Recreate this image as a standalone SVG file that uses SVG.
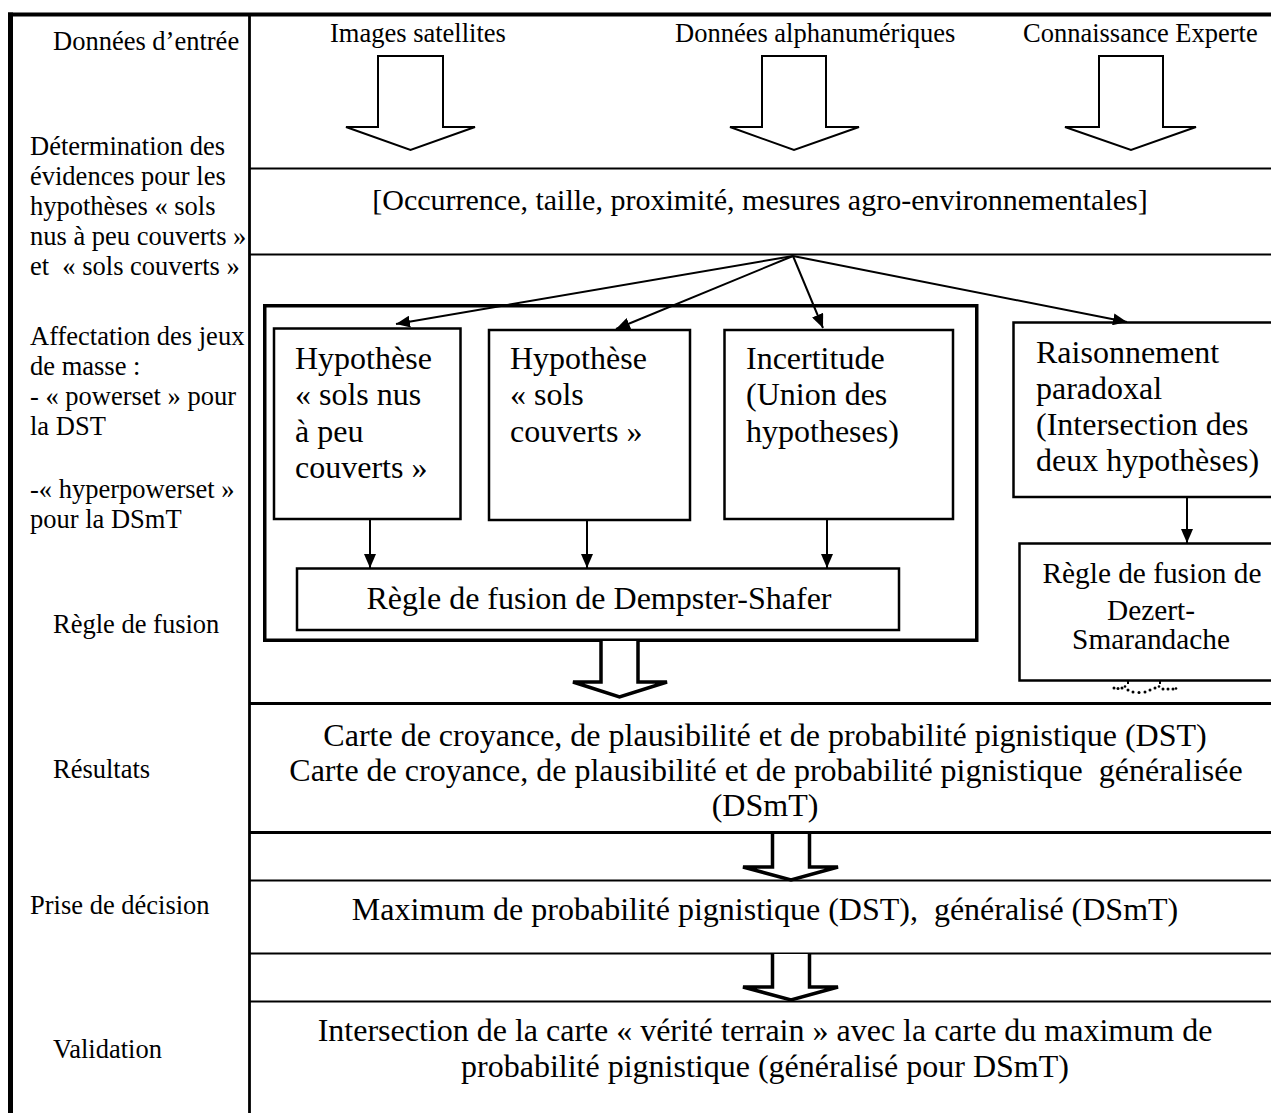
<svg xmlns="http://www.w3.org/2000/svg" width="1271" height="1113" viewBox="0 0 1271 1113">
<defs>
<style>
text{font-family:"Liberation Serif","Times New Roman",serif;fill:#000}
.lab{font-size:26.5px}
.top{font-size:26.5px}
.mid{font-size:32px;text-anchor:middle}
.occ{font-size:30px;text-anchor:middle}
.box{font-size:32px}
.dsm{font-size:29.3px;text-anchor:middle}
.frame{fill:none;stroke:#000}
.node{fill:#fff;stroke:#000;stroke-width:2.5}
.fat{fill:#fff;stroke:#000;stroke-width:2;stroke-linejoin:miter}
.big{fill:#fff;stroke:#000;stroke-width:3.5;stroke-linejoin:miter}
.conn{fill:none;stroke:#000;stroke-width:2}
</style>
<marker id="ah" viewBox="0 0 14 12" refX="14" refY="6" markerWidth="14" markerHeight="12" markerUnits="userSpaceOnUse" orient="auto">
<path d="M0,0 L14,6 L0,12 Z" fill="#000"/>
</marker>
</defs>
<rect width="1271" height="1113" fill="#fff"/>

<g id="frame">
<line class="frame" x1="8" y1="14.5" x2="1271" y2="14.5" stroke-width="4"/>
<line class="frame" x1="10.5" y1="12.5" x2="10.5" y2="1113" stroke-width="5"/>
<line class="frame" x1="249.5" y1="14" x2="249.5" y2="1113" stroke-width="2.8"/>
<line class="frame" x1="249" y1="168.5" x2="1271" y2="168.5" stroke-width="2"/>
<line class="frame" x1="249" y1="254.5" x2="1271" y2="254.5" stroke-width="2"/>
<line class="frame" x1="249" y1="703.5" x2="1271" y2="703.5" stroke-width="3"/>
<line class="frame" x1="249" y1="832.5" x2="1271" y2="832.5" stroke-width="3"/>
<line class="frame" x1="249" y1="880.5" x2="1271" y2="880.5" stroke-width="2"/>
<line class="frame" x1="249" y1="953.5" x2="1271" y2="953.5" stroke-width="2"/>
<line class="frame" x1="249" y1="1001.5" x2="1271" y2="1001.5" stroke-width="2"/>
</g>

<g id="left-labels">
<text class="lab" x="53" y="50">Données d’entrée</text>
<text class="lab" x="30" y="155">Détermination des</text>
<text class="lab" x="30" y="185">évidences pour les</text>
<text class="lab" x="30" y="215">hypothèses « sols</text>
<text class="lab" x="30" y="245">nus à peu couverts »</text>
<text class="lab" x="30" y="275" xml:space="preserve">et  « sols couverts »</text>
<text class="lab" x="30" y="345">Affectation des jeux</text>
<text class="lab" x="30" y="375">de masse :</text>
<text class="lab" x="30" y="405">- « powerset » pour</text>
<text class="lab" x="30" y="435">la DST</text>
<text class="lab" x="30" y="498">-« hyperpowerset »</text>
<text class="lab" x="30" y="528">pour la DSmT</text>
<text class="lab" x="53" y="633">Règle de fusion</text>
<text class="lab" x="53" y="778">Résultats</text>
<text class="lab" x="30" y="914">Prise de décision</text>
<text class="lab" x="53" y="1058">Validation</text>
</g>

<g id="inputs">
<text class="top" x="330" y="42">Images satellites</text>
<text class="top" x="675" y="42">Données alphanumériques</text>
<text class="top" x="1023" y="42">Connaissance Experte</text>
<polygon class="fat" points="378,56 443,56 443,127 475,127 410.5,150 346,127 378,127"/>
<polygon class="fat" points="762,56 826,56 826,127 859,127 794,150 730,127 762,127"/>
<polygon class="fat" points="1099,56 1163,56 1163,127 1196,127 1131,150 1065,127 1099,127"/>
</g>

<g id="evidences">
<text class="occ" x="760" y="210">[Occurrence, taille, proximité, mesures agro-environnementales]</text>
</g>

<g id="dst-group">
<rect x="264.75" y="305.75" width="712" height="334.5" fill="none" stroke="#000" stroke-width="3.5"/>
</g>

<g id="hyp1">
<rect class="node" x="274" y="328.5" width="186.5" height="190.5"/>
<text class="box" x="295" y="369">Hypothèse</text>
<text class="box" x="295" y="405">« sols nus</text>
<text class="box" x="295" y="442">à peu</text>
<text class="box" x="295" y="478">couverts »</text>
</g>

<g id="hyp2">
<rect class="node" x="489" y="330" width="201" height="190"/>
<text class="box" x="510" y="369">Hypothèse</text>
<text class="box" x="510" y="405">« sols</text>
<text class="box" x="510" y="442">couverts »</text>
</g>

<g id="incertitude">
<rect class="node" x="724.5" y="330" width="228.5" height="189"/>
<text class="box" x="746" y="369">Incertitude</text>
<text class="box" x="746" y="405">(Union des</text>
<text class="box" x="746" y="442">hypotheses)</text>
</g>

<g id="dempster">
<rect class="node" x="297" y="568.5" width="602" height="61.5"/>
<text class="box" x="599" y="609" text-anchor="middle">Règle de fusion de Dempster-Shafer</text>
</g>

<g id="paradoxal">
<rect class="node" x="1013.5" y="322.5" width="262" height="174.5"/>
<text class="box" x="1036" y="363">Raisonnement</text>
<text class="box" x="1036" y="399">paradoxal</text>
<text class="box" x="1036" y="435">(Intersection des</text>
<text class="box" x="1036" y="471">deux hypothèses)</text>
</g>

<g id="dsm">
<rect class="node" x="1019.5" y="543.5" width="256" height="137"/>
<text class="dsm" x="1152" y="583">Règle de fusion de</text>
<text class="dsm" x="1151" y="620">Dezert-</text>
<text class="dsm" x="1151" y="649">Smarandache</text>
</g>

<g id="results">
<text class="mid" x="765" y="746">Carte de croyance, de plausibilité et de probabilité pignistique (DST)</text>
<text class="mid" x="766" y="781" xml:space="preserve">Carte de croyance, de plausibilité et de probabilité pignistique  généralisée</text>
<text class="mid" x="765" y="816">(DSmT)</text>
</g>

<g id="decision">
<text class="mid" x="765" y="920" xml:space="preserve">Maximum de probabilité pignistique (DST),  généralisé (DSmT)</text>
</g>

<g id="validation">
<text class="mid" x="765" y="1041">Intersection de la carte « vérité terrain » avec la carte du maximum de</text>
<text class="mid" x="765" y="1077">probabilité pignistique (généralisé pour DSmT)</text>
</g>

<g id="connectors">
<line class="conn" x1="793" y1="256" x2="396" y2="324" marker-end="url(#ah)"/>
<line class="conn" x1="793" y1="256" x2="616" y2="329" marker-end="url(#ah)"/>
<line class="conn" x1="793" y1="256" x2="823" y2="328" marker-end="url(#ah)"/>
<line class="conn" x1="793" y1="256" x2="1127" y2="322" marker-end="url(#ah)"/>
<line class="conn" x1="370" y1="520" x2="370" y2="568" marker-end="url(#ah)"/>
<line class="conn" x1="587" y1="521" x2="587" y2="568" marker-end="url(#ah)"/>
<line class="conn" x1="827" y1="520" x2="827" y2="568" marker-end="url(#ah)"/>
<line class="conn" x1="1187" y1="498" x2="1187" y2="543" marker-end="url(#ah)"/>
<polyline class="big" points="601,641 601,682 573,682 619.5,697 667,682 638,682 638,641"/>
<polyline class="big" points="772.5,834 772.5,867 743,867 791,880 838,867 809.5,867 809.5,834"/>
<polyline class="big" points="772.5,954 772.5,987 743,987 791,1000 838,987 809.5,987 809.5,954"/>
<g fill="#000">
<rect x="1127" y="681" width="2" height="3"/>
<rect x="1159" y="681" width="2" height="3"/>
<circle cx="1114" cy="688" r="1.5"/>
<circle cx="1118" cy="688.5" r="1.5"/>
<circle cx="1122" cy="688" r="1.5"/>
<circle cx="1125" cy="686.5" r="1.3"/>
<circle cx="1128" cy="690" r="1.5"/>
<circle cx="1133" cy="692" r="1.5"/>
<circle cx="1139" cy="692.5" r="1.5"/>
<circle cx="1145" cy="692" r="1.5"/>
<circle cx="1150" cy="690" r="1.5"/>
<circle cx="1155" cy="688" r="1.5"/>
<circle cx="1159" cy="686.5" r="1.3"/>
<circle cx="1163" cy="689" r="1.5"/>
<circle cx="1168" cy="689" r="1.5"/>
<circle cx="1173" cy="689" r="1.5"/>
<circle cx="1176" cy="688.5" r="1.3"/>
</g>
</g>
</svg>
